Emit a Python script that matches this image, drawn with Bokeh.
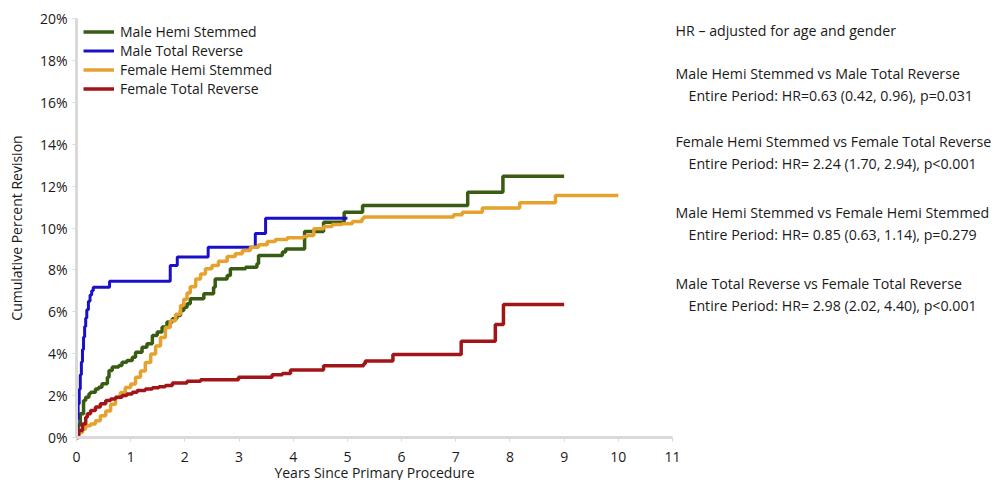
from bokeh.plotting import figure
from bokeh.models import Legend, LegendItem, FixedTicker, Range1d, PrintfTickFormatter
from bokeh.core.properties import value
from bokeh.embed import file_html
from bokeh.resources import INLINE

# ---------------- data ----------------
series_names = ["Male Hemi Stemmed", "Male Total Reverse",
                "Female Hemi Stemmed", "Female Total Reverse"]
series_colors = ["#385C12", "#1A10C8", "#E5A22F", "#A11518"]

male_hemi_years = [0, 0.03, 0.07, 0.13, 0.17, 0.23, 0.26, 0.35, 0.41, 0.47, 0.57, 0.60,
                   0.66, 0.78, 0.84, 0.93, 1.03, 1.09, 1.21, 1.30, 1.40, 1.49, 1.58, 1.67,
                   1.77, 1.85, 1.92, 1.98, 2.04, 2.10, 2.35, 2.53, 2.56, 2.78, 2.84, 3.12,
                   3.33, 3.36, 3.80, 3.86, 4.21, 4.56, 4.94, 5.28, 7.22, 7.87, 9.0]
male_hemi_pct = [0, 0.6, 1.13, 1.77, 1.92, 2.09, 2.16, 2.32, 2.40, 2.56, 2.88, 3.20,
                 3.36, 3.44, 3.59, 3.68, 3.83, 4.07, 4.31, 4.47, 4.87, 5.03, 5.27, 5.51,
                 5.67, 5.82, 6.06, 6.22, 6.38, 6.62, 6.86, 7.17, 7.57, 7.73, 8.05, 8.13,
                 8.29, 8.69, 8.85, 9.00, 9.83, 10.28, 10.75, 11.07, 11.71, 12.47, 12.47]

male_rev_years = [0, 0.01, 0.03, 0.05, 0.07, 0.09, 0.11, 0.13, 0.15, 0.17, 0.19, 0.22,
                  0.25, 0.28, 0.31, 0.61, 1.73, 1.86, 2.43, 3.30, 3.49, 5.0]
male_rev_pct = [0, 0.9, 1.6, 2.3, 3.0, 3.6, 4.2, 4.8, 5.3, 5.7, 6.1, 6.5,
                6.8, 7.0, 7.17, 7.46, 8.21, 8.61, 9.08, 9.74, 10.47, 10.47]

female_hemi_years = [0, 0.04, 0.11, 0.17, 0.26, 0.35, 0.44, 0.54, 0.63, 0.72, 0.81, 0.90,
                     1.00, 1.09, 1.18, 1.27, 1.37, 1.46, 1.55, 1.64, 1.73, 1.83, 1.92, 1.98,
                     2.04, 2.10, 2.20, 2.29, 2.38, 2.50, 2.62, 2.78, 2.93, 3.06, 3.21, 3.36,
                     3.52, 3.67, 3.89, 4.19, 4.26, 4.38, 4.56, 4.72, 4.90, 5.09, 5.27, 5.30,
                     6.96, 7.12, 7.49, 8.18, 8.84, 10.0]
female_hemi_pct = [0, 0.24, 0.40, 0.56, 0.64, 0.80, 1.04, 1.27, 1.59, 1.91, 2.15, 2.39,
                   2.55, 2.87, 3.18, 3.58, 3.98, 4.37, 4.77, 5.25, 5.57, 5.88, 6.30, 6.60,
                   6.90, 7.20, 7.57, 7.81, 8.05, 8.21, 8.41, 8.64, 8.77, 8.93, 9.08, 9.20,
                   9.35, 9.45, 9.53, 9.59, 9.64, 9.96, 10.07, 10.17, 10.20, 10.31, 10.44, 10.52,
                   10.63, 10.75, 10.96, 11.20, 11.55, 11.55]

female_rev_years = [0, 0.04, 0.11, 0.17, 0.20, 0.26, 0.35, 0.44, 0.54, 0.63, 0.72, 0.84,
                    0.93, 1.03, 1.12, 1.27, 1.40, 1.52, 1.64, 1.77, 2.04, 2.29, 2.99, 3.61,
                    3.80, 3.95, 4.56, 5.30, 5.33, 5.84, 7.10, 7.73, 7.88, 9.0]
female_rev_pct = [0, 0.33, 0.65, 0.97, 1.13, 1.29, 1.45, 1.61, 1.77, 1.84, 1.92, 2.00,
                  2.08, 2.16, 2.24, 2.32, 2.37, 2.42, 2.48, 2.60, 2.68, 2.76, 2.88, 3.00,
                  3.06, 3.22, 3.42, 3.52, 3.65, 3.96, 4.60, 5.39, 6.35, 6.35]

x_ticks = [0, 1, 2, 3, 4, 5, 6, 7, 8, 9, 10, 11]
y_ticks = [0, 2, 4, 6, 8, 10, 12, 14, 16, 18, 20]

x_title = "Years Since Primary Procedure"
y_title = "Cumulative Percent Revision"

hr_title = "HR \u2013 adjusted for age and gender"
hr_comparisons = ["Male Hemi Stemmed vs Male Total Reverse",
                  "Female Hemi Stemmed vs Female Total Reverse",
                  "Male Hemi Stemmed vs Female Hemi Stemmed",
                  "Male Total Reverse vs Female Total Reverse"]
hr_results = ["Entire Period: HR=0.63 (0.42, 0.96), p=0.031",
              "Entire Period: HR= 2.24 (1.70, 2.94), p<0.001",
              "Entire Period: HR= 0.85 (0.63, 1.14), p=0.279",
              "Entire Period: HR= 2.98 (2.02, 4.40), p<0.001"]

series_years = [male_hemi_years, male_rev_years, female_hemi_years, female_rev_years]
series_pct = [male_hemi_pct, male_rev_pct, female_hemi_pct, female_rev_pct]
series_widths = [3.5, 3, 3.5, 3.5]

# ---------------- layout geometry (pixels) ----------------
W, H = 993, 480
X0_PX, X11_PX = 76, 672       # where year 0 and year 11 fall
Y0_PX, Y20_PX = 437, 18       # where 0% and 20% fall
px_per_year = (X11_PX - X0_PX) / 11
px_per_pct = (Y0_PX - Y20_PX) / 20

x_start = -X0_PX / px_per_year
x_end = (W - X0_PX) / px_per_year
y_start = -(H - Y0_PX) / px_per_pct
y_end = 20 + Y20_PX / px_per_pct

FONT = "Open Sans"
TXT = "#1a1a1a"

p = figure(width=W, height=H, output_backend="svg", toolbar_location=None,
           x_range=Range1d(x_start, x_end), y_range=Range1d(y_start, y_end),
           min_border_left=0, min_border_right=0, min_border_top=0, min_border_bottom=0)
p.outline_line_color = None
p.xgrid.visible = False
p.ygrid.visible = False
p.background_fill_color = "white"
p.border_fill_color = "white"

for ax in (p.xaxis[0], p.yaxis[0]):
    ax.axis_line_color = "#d9d9d9"
    ax.axis_line_width = 3
    ax.major_tick_line_color = "#d9d9d9"
    ax.major_tick_line_width = 1
    ax.major_tick_in = 0
    ax.major_tick_out = 4
    ax.minor_tick_line_color = None
    ax.major_label_text_font = FONT
    ax.major_label_text_font_size = "14px"
    ax.major_label_text_color = TXT
    ax.axis_label_text_font = FONT
    ax.axis_label_text_font_size = "14px"
    ax.axis_label_text_font_style = "normal"
    ax.axis_label_text_color = TXT
    ax.fixed_location = 0

p.xaxis.ticker = FixedTicker(ticks=x_ticks)
p.yaxis.ticker = FixedTicker(ticks=y_ticks)
p.yaxis.formatter = PrintfTickFormatter(format="%d%%")
p.xaxis.bounds = (0, 11)
p.yaxis.bounds = (0, 20)
p.xaxis.major_label_standoff = 10
p.yaxis.major_label_standoff = 5
p.xaxis.axis_label = x_title
p.xaxis.axis_label_standoff = -2
p.yaxis.axis_label = y_title
p.yaxis.axis_label_standoff = 11

items = []
for name, color, xs, ys, lw in zip(series_names, series_colors, series_years, series_pct, series_widths):
    r = p.step(xs, ys, mode="after", line_color=color, line_width=lw)
    items.append(LegendItem(label=name, renderers=[r]))

legend = Legend(items=items, location=(83, 382), margin=0, padding=0, spacing=0,
                label_height=19, glyph_height=19, glyph_width=31, label_standoff=6,
                label_text_font=FONT, label_text_font_size="14px", label_text_color=TXT,
                border_line_color=None, background_fill_alpha=0)
p.add_layout(legend)

# hazard-ratio notes on the right (positions given in page pixels)
def to_x(page_x):
    return (page_x - X0_PX) / px_per_year

def to_y(page_y):
    return (Y0_PX - page_y) / px_per_pct

note_text = [hr_title]
note_px_x = [675]
note_px_y = [30]
for comp, res, hy in zip(hr_comparisons, hr_results, [73, 141, 212, 283]):
    note_text += [comp, res]
    note_px_x += [675, 688]
    note_px_y += [hy, hy + 22]

p.text(x=[to_x(v) for v in note_px_x], y=[to_y(v) for v in note_px_y], text=note_text,
       text_font=value(FONT), text_font_size=value("14.2px"), text_color=TXT,
       text_baseline="middle", text_align="left")

open("out.html", "w").write(file_html(p, INLINE))
